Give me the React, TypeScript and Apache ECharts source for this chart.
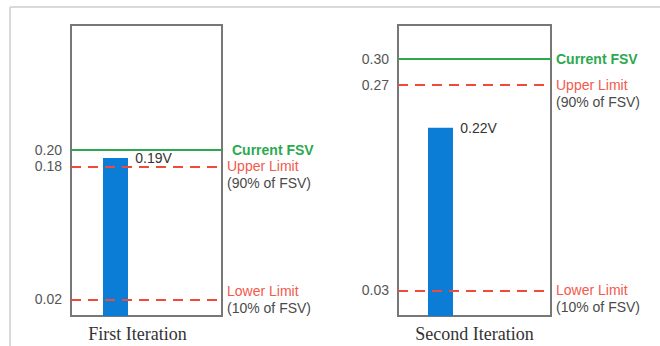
import React, { useEffect, useRef } from "react";
import * as echarts from "echarts";

const panelTitles = ["First Iteration", "Second Iteration"];
const measuredValues = [0.19, 0.22];
const fsvValues = [0.2, 0.3];
const upperLimits = [0.18, 0.27];
const lowerLimits = [0.02, 0.03];
const axisMax = [0.35, 0.34];
const tickLabels = [
  [0.02, 0.18, 0.2],
  [0.03, 0.27, 0.3],
];

const SANS = "'Liberation Sans', Arial, sans-serif";
const SERIF = "'Liberation Serif', 'Times New Roman', serif";
const GREEN = "#2ca94f";
const RED = "#ee4b3d";
const RED_TEXT = "#f25a4c";
const GRAY_TEXT = "#4a4a4a";
const BLUE = "#0b7dd6";

const grids = [
  { left: 71, top: 25, width: 151, height: 291 },
  { left: 398, top: 25, width: 153, height: 291 },
];
const barGaps = ["148%", "172%"];
const xLabelPadding = [[0, 18, 0, 0], [0, 0, 0, 0]];
// whether the limit label's first line sits on the line (true) or is centred around it
const upperFirstLineOnLine = [true, true];
const lowerFirstLineOnLine = [false, true];
const fsvLabelDistance = [10, 5];

function limitLabel(title: string, sub: string, onLine: boolean) {
  return {
    show: true,
    position: "end",
    distance: 5,
    lineHeight: 17,
    fontFamily: SANS,
    fontSize: 14,
    formatter: (onLine ? "\n" : "") + "{a|" + title + "}\n{b|" + sub + "}",
    rich: {
      a: { color: RED_TEXT, fontSize: 14, fontFamily: SANS, lineHeight: 17 },
      b: { color: GRAY_TEXT, fontSize: 14, fontFamily: SANS, lineHeight: 17 },
    },
  };
}

export default function App() {
  const ref = useRef<HTMLDivElement>(null);

  useEffect(() => {
    if (!ref.current) return;
    const chart = echarts.init(ref.current, undefined, { renderer: "svg" });

    const xAxis: any[] = [];
    const yAxis: any[] = [];
    const series: any[] = [];

    panelTitles.forEach((title, i) => {
      xAxis.push({
        type: "category",
        gridIndex: i,
        data: [title],
        axisLine: { show: false },
        axisTick: { show: false },
        axisLabel: {
          margin: 9,
          color: "#333",
          fontFamily: SERIF,
          fontSize: 18,
          padding: xLabelPadding[i],
        },
      });
      yAxis.push({
        type: "value",
        gridIndex: i,
        min: 0,
        max: axisMax[i],
        axisLine: { show: false },
        axisTick: { show: false },
        splitLine: { show: false },
        axisLabel: {
          customValues: tickLabels[i],
          formatter: (v: number) => v.toFixed(2),
          color: "#555",
          fontFamily: SANS,
          fontSize: 14,
          margin: 9,
        },
      });
      series.push({
        type: "bar",
        xAxisIndex: i,
        yAxisIndex: i,
        barWidth: 25,
        barGap: barGaps[i],
        data: [measuredValues[i]],
        itemStyle: { color: BLUE },
        label: {
          show: true,
          position: "top",
          offset: [38, 12],
          formatter: (p: any) => p.value.toFixed(2) + "V",
          color: "#333",
          fontFamily: SANS,
          fontSize: 14,
        },
        markLine: {
          silent: true,
          symbol: ["none", "none"],
          data: [
            {
              yAxis: fsvValues[i],
              lineStyle: { color: GREEN, width: 2, type: "solid" },
              label: {
                show: true,
                position: "end",
                distance: fsvLabelDistance[i],
                formatter: "Current FSV",
                color: GREEN,
                fontWeight: "bold",
                fontFamily: SANS,
                fontSize: 14,
              },
            },
            {
              yAxis: upperLimits[i],
              lineStyle: { color: RED, width: 2, type: [10, 7] },
              label: limitLabel("Upper Limit", "(90% of FSV)", upperFirstLineOnLine[i]),
            },
            {
              yAxis: lowerLimits[i],
              lineStyle: { color: RED, width: 2, type: [10, 7] },
              label: limitLabel("Lower Limit", "(10% of FSV)", lowerFirstLineOnLine[i]),
            },
          ],
        },
      });
      // empty companion series used only to offset the bar within its band
      series.push({
        type: "bar",
        xAxisIndex: i,
        yAxisIndex: i,
        barWidth: 25,
        barGap: barGaps[i],
        data: ["-"],
        silent: true,
      });
    });

    chart.setOption({
      animation: false,
      backgroundColor: "#ffffff",
      grid: grids.map((g) => ({
        ...g,
        show: true,
        borderColor: "#777",
        borderWidth: 2,
        backgroundColor: "transparent",
      })),
      xAxis,
      yAxis,
      series,
      graphic: [
        {
          type: "line",
          shape: { x1: 10, y1: 7, x2: 660, y2: 7 },
          style: { stroke: "#d9d9d9", lineWidth: 2 },
          silent: true,
        },
        {
          type: "line",
          shape: { x1: 10, y1: 7, x2: 10, y2: 346 },
          style: { stroke: "#d9d9d9", lineWidth: 2 },
          silent: true,
        },
      ],
    });

    return () => chart.dispose();
  }, []);

  return (
    <div
      ref={ref}
      style={{ position: "fixed", left: 0, top: 0, width: 660, height: 346 }}
    />
  );
}
